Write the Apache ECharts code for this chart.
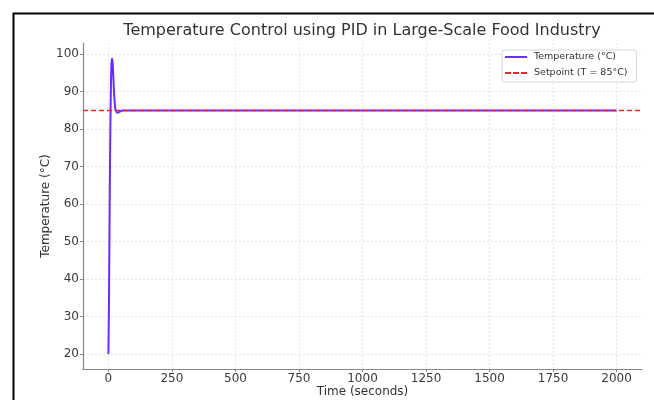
<!DOCTYPE html>
<html>
<head>
<meta charset="utf-8">
<script src="https://cdn.jsdelivr.net/npm/echarts@6/dist/echarts.min.js"></script>
<style>
html,body{margin:0;padding:0;background:#fff;}
#chart{width:654px;height:400px;}
</style>
</head>
<body>
<div id="chart"></div>
<script>
// Data
const timeSeconds = [0, 2, 4, 6, 8, 10, 12, 14, 16, 18, 20, 22, 24, 26, 28, 32, 36, 40, 45, 50, 60, 80, 2000];
const temperature = [20, 32, 50, 68, 82, 92, 97.5, 98.8, 98.3, 96, 93, 90, 87.8, 86.2, 85.2, 84.6, 84.4, 84.5, 84.7, 84.9, 85.0, 85.0, 85.0];
const setpointTime = [-100, 2100];
const setpointValue = [85, 85];
const xTicks = [0, 250, 500, 750, 1000, 1250, 1500, 1750, 2000];
const yTicks = [20, 30, 40, 50, 60, 70, 80, 90, 100];

const FONT = 'DejaVu Sans';
const chart = echarts.init(document.getElementById('chart'), null, {renderer: 'canvas'});

const tempData = timeSeconds.map((t, i) => [t, temperature[i]]);
const spData = setpointTime.map((t, i) => [t, setpointValue[i]]);

chart.setOption({
  animation: false,
  backgroundColor: '#ffffff',
  textStyle: {fontFamily: FONT},
  title: {
    text: 'Temperature Control using PID in Large-Scale Food Industry',
    left: 357, top: 18, textAlign: 'center',
    textStyle: {fontFamily: FONT, fontSize: 16, fontWeight: 'normal', color: '#333'}
  },
  graphic: [{
    type: 'rect', left: 11, top: 11, z: 100, silent: true,
    shape: {width: 700, height: 450},
    style: {fill: 'none', stroke: '#000', lineWidth: 2}
  }],
  legend: {
    left: 502, top: 50, orient: 'vertical',
    itemWidth: 22, itemHeight: 8, itemGap: 6,
    padding: [2, 9, 4, 3],
    borderColor: '#d6d6d6', borderWidth: 1, borderRadius: 3,
    backgroundColor: '#fff',
    textStyle: {fontFamily: FONT, fontSize: 9.5, color: '#333', padding: [0, 0, 0, 2]},
    data: [
      {name: 'Temperature (°C)', icon: 'path://M0,0 L22,0 L22,2 L0,2 Z'},
      {name: 'Setpoint (T = 85°C)', icon: 'path://M0,0h6v2h-6z M8,0h6v2h-6z M16,0h6v2h-6z'}
    ]
  },
  grid: {left: 83, right: 12, top: 43, bottom: 31, containLabel: false, outerBoundsMode: 'none'},
  xAxis: {
    type: 'value', min: -100, max: 2100,
    name: 'Time (seconds)', nameLocation: 'middle', nameGap: 17, nameMoveOverlap: false,
    nameTextStyle: {fontFamily: FONT, fontSize: 12, color: '#333'},
    axisLine: {onZero: false, lineStyle: {color: '#888', width: 1.2}},
    axisTick: {show: true, customValues: xTicks, length: 3, lineStyle: {color: '#888'}},
    axisLabel: {customValues: xTicks, fontFamily: FONT, fontSize: 12, color: '#3a3a3a', margin: 4,
      formatter: v => String(v)},
    splitLine: {show: true, lineStyle: {color: '#dcdcdc', type: [2, 2], width: 0.8}}
  },
  yAxis: {
    type: 'value', min: 16, max: 103,
    name: 'Temperature (°C)', nameLocation: 'middle', nameGap: 31, nameMoveOverlap: false,
    nameTextStyle: {fontFamily: FONT, fontSize: 12, color: '#333'},
    axisLine: {show: true, onZero: false, lineStyle: {color: '#888', width: 1.2}},
    axisTick: {show: true, customValues: yTicks, length: 3, lineStyle: {color: '#888'}},
    axisLabel: {customValues: yTicks, fontFamily: FONT, fontSize: 12, color: '#3a3a3a', margin: 4,
      formatter: v => String(v)},
    splitLine: {show: true, lineStyle: {color: '#dcdcdc', type: [2, 2], width: 0.8}}
  },
  series: [
    {
      name: 'Temperature (°C)', type: 'line', data: tempData,
      symbol: 'none', smooth: 0.3, z: 3,
      color: '#6a2cff',
      lineStyle: {color: '#6a2cff', width: 2}
    },
    {
      name: 'Setpoint (T = 85°C)', type: 'line', data: spData,
      symbol: 'none', z: 4,
      color: '#ff2020',
      lineStyle: {color: '#ff2020', width: 1.6, type: [5, 3]}
    }
  ]
});
</script>
</body>
</html>
